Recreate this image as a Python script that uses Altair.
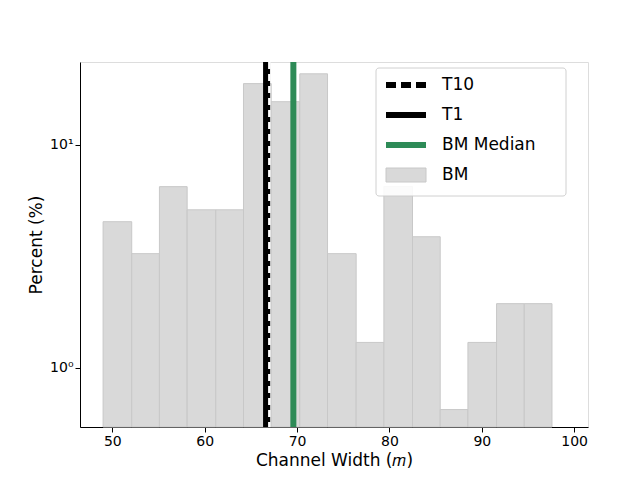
import altair as alt
import pandas as pd

left = [49.0,52.1,55.1,58.1,61.2,64.2,67.2,70.3,73.3,76.4,79.4,82.5,85.5,88.5,91.6,94.6]
right = [52.1,55.1,58.1,61.2,64.2,67.2,70.3,73.3,76.4,79.4,82.5,85.5,88.5,91.6,94.6,97.6]
pct = [4.52,3.25,6.49,5.11,5.11,18.8,15.6,20.8,3.25,1.30,6.5,3.87,0.65,1.30,1.94,1.94]
t10 = 66.7
t1 = 66.7
bm_median = 69.6

df = pd.DataFrame({"l": left, "r": right, "p": pct})
xs = alt.Scale(domain=[46.5, 101.5], nice=False, zero=False)
ys = alt.Scale(type="log", domain=[0.543, 23.5], nice=False)

bars = alt.Chart(df).mark_rect(color="#d9d9d9", stroke="#c8c8c8", strokeWidth=1).encode(
    x=alt.X("l:Q", scale=xs, title="Channel Width (𝑚)", axis=alt.Axis(values=[50,60,70,80,90,100])),
    x2="r:Q",
    y=alt.Y("p:Q", scale=ys, title="Percent (%)",
            axis=alt.Axis(values=[1, 10], labelExpr="datum.value == 1 ? '10⁰' : '10¹'")),
    y2=alt.value(365),
)

solid = alt.Chart(pd.DataFrame({"x": [t1]})).mark_rule(color="black", strokeWidth=7).encode(x=alt.X("x:Q", scale=xs))
dashed = alt.Chart(pd.DataFrame({"x": [t10 + 0.3]})).mark_rule(color="white", strokeWidth=2.5, strokeDash=[7, 5]).encode(x=alt.X("x:Q", scale=xs))
med = alt.Chart(pd.DataFrame({"x": [bm_median]})).mark_rule(color="#2e8b57", strokeWidth=6).encode(x=alt.X("x:Q", scale=xs))

lx, ly = 296, 6
box = alt.Chart(pd.DataFrame({"a": [0]})).mark_rect(fill="white", stroke="#cccccc", cornerRadius=3, opacity=0.9).encode(
    x=alt.value(lx), x2=alt.value(lx + 190), y=alt.value(ly), y2=alt.value(ly + 128))
names = ["T10", "T1", "BM Median", "BM"]
leg = []
for i, n in enumerate(names):
    yy = ly + 17 + i * 30
    if n == "BM":
        leg.append(alt.Chart(pd.DataFrame({"a": [0]})).mark_rect(fill="#d9d9d9", stroke="#c8c8c8").encode(
            x=alt.value(lx + 10), x2=alt.value(lx + 50), y=alt.value(yy - 7), y2=alt.value(yy + 7)))
    else:
        col = "#2e8b57" if n == "BM Median" else "black"
        kw = {"strokeDash": [10, 5]} if n == "T10" else {}
        leg.append(alt.Chart(pd.DataFrame({"a": [0]})).mark_rule(color=col, strokeWidth=6, **kw).encode(
            x=alt.value(lx + 10), x2=alt.value(lx + 50), y=alt.value(yy)))
    leg.append(alt.Chart(pd.DataFrame({"t": [n]})).mark_text(align="left", baseline="middle", fontSize=17, color="black").encode(
        x=alt.value(lx + 66), y=alt.value(yy), text="t:N"))

chart = alt.layer(bars, solid, dashed, med, box, *leg).properties(
    width=508, height=365, autosize="none",
    padding={"left": 72, "top": 54, "right": 44, "bottom": 45},
).configure_view(stroke="black", strokeWidth=1).configure(font="DejaVu Sans").configure_axis(
    grid=False, labelFontSize=14, titleFontSize=17, titleFontWeight="normal",
    labelColor="black", titleColor="black", domainColor="black", tickColor="black",
    labelFont="DejaVu Sans", titleFont="DejaVu Sans", tickSize=5,
)

chart.save("out.html", embed_options={"renderer": "svg", "actions": False})
